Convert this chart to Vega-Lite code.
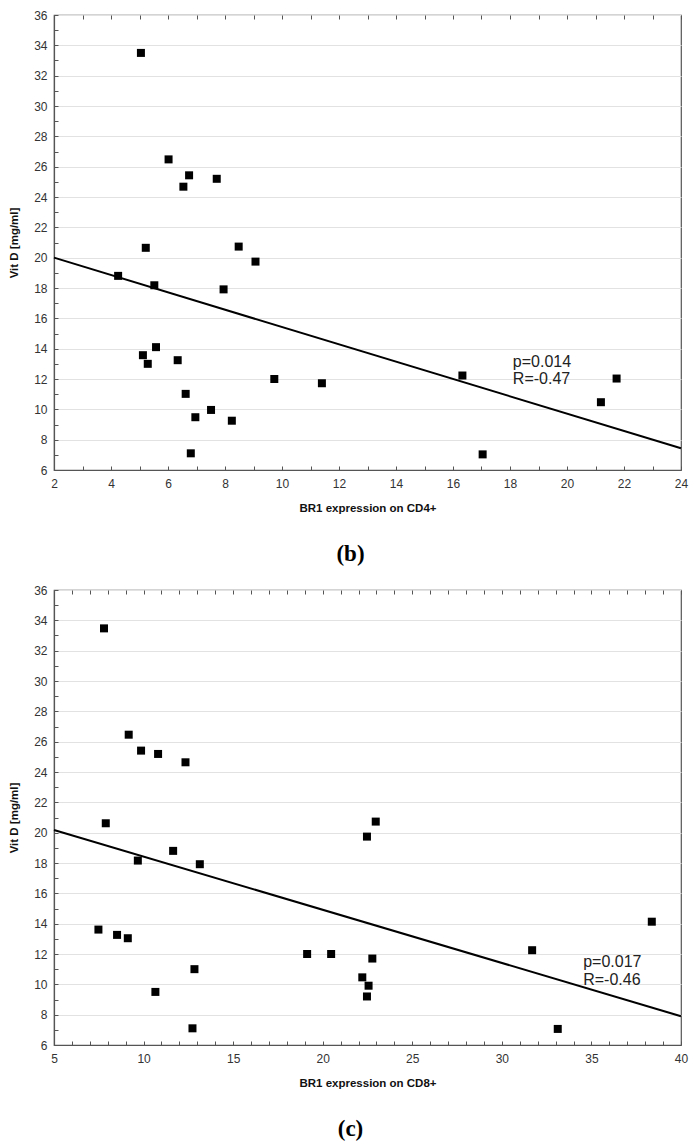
{
  "$schema": "https://vega.github.io/schema/vega-lite/v6.json",
  "background": "white",
  "padding": {"left": 8, "top": 8, "right": 12, "bottom": 0},
  "datasets": {
    "b": [
      {"x": 5.05, "y": 33.5}, {"x": 6.02, "y": 26.48}, {"x": 6.74, "y": 25.43}, {"x": 6.54, "y": 24.68}, {"x": 7.71, "y": 25.2},
      {"x": 5.22, "y": 20.65}, {"x": 8.48, "y": 20.73}, {"x": 9.07, "y": 19.74}, {"x": 4.25, "y": 18.8}, {"x": 5.52, "y": 18.18},
      {"x": 7.95, "y": 17.91}, {"x": 5.12, "y": 13.57}, {"x": 5.29, "y": 13.0}, {"x": 5.58, "y": 14.1}, {"x": 6.34, "y": 13.24},
      {"x": 9.73, "y": 12.0}, {"x": 11.4, "y": 11.72}, {"x": 6.62, "y": 11.02}, {"x": 7.51, "y": 9.96}, {"x": 6.96, "y": 9.48},
      {"x": 8.24, "y": 9.25}, {"x": 6.8, "y": 7.1}, {"x": 16.33, "y": 12.23}, {"x": 21.74, "y": 12.03}, {"x": 21.19, "y": 10.47},
      {"x": 17.04, "y": 7.03}
    ],
    "c": [
      {"x": 7.79, "y": 33.47}, {"x": 9.17, "y": 26.46}, {"x": 9.86, "y": 25.41}, {"x": 10.81, "y": 25.19}, {"x": 12.34, "y": 24.64},
      {"x": 7.89, "y": 20.62}, {"x": 9.68, "y": 18.16}, {"x": 11.65, "y": 18.8}, {"x": 13.14, "y": 17.92}, {"x": 7.48, "y": 13.61},
      {"x": 8.52, "y": 13.26}, {"x": 9.12, "y": 13.04}, {"x": 19.13, "y": 12.0}, {"x": 20.47, "y": 12.0}, {"x": 12.84, "y": 11.0},
      {"x": 10.66, "y": 9.5}, {"x": 12.73, "y": 7.1}, {"x": 22.96, "y": 20.73}, {"x": 22.47, "y": 19.74}, {"x": 22.77, "y": 11.7},
      {"x": 22.21, "y": 10.46}, {"x": 22.56, "y": 9.91}, {"x": 22.47, "y": 9.2}, {"x": 38.37, "y": 14.13}, {"x": 31.69, "y": 12.25},
      {"x": 33.12, "y": 7.06}
    ],
    "bl": [{"x": 2, "y": 20.0}, {"x": 24, "y": 7.43}],
    "cl": [{"x": 5, "y": 20.18}, {"x": 40, "y": 7.9}],
    "bt": [{"x": 18.1, "y": 13.15, "label": "p=0.014"}, {"x": 18.1, "y": 11.99, "label": "R=-0.47"}],
    "ct": [{"x": 34.54, "y": 11.5, "label": "p=0.017"}, {"x": 34.54, "y": 10.3, "label": "R=-0.46"}]
  },
  "vconcat": [
    {
      "width": 627,
      "height": 455,
      "title": {"text": "(b)", "orient": "bottom", "frame": "group", "anchor": "middle", "dx": -17, "offset": 29, "baseline": "top", "font": "Liberation Serif", "fontSize": 23, "fontWeight": "bold", "color": "#000"},
      "layer": [
        {
          "data": {"name": "b"},
          "mark": {"type": "point", "shape": "square", "filled": true, "size": 64, "color": "#000", "opacity": 1},
          "encoding": {
            "x": {"field": "x", "type": "quantitative", "scale": {"domain": [2, 24], "nice": false, "zero": false},
              "axis": {"orient": "bottom", "title": "BR1 expression on CD4+", "labelOverlap": false, "values": [2,3,4,5,6,7,8,9,10,11,12,13,14,15,16,17,18,19,20,21,22,23,24], "labelExpr": "datum.value % 2 === 0 ? datum.label : ''", "grid": false}},
            "y": {"field": "y", "type": "quantitative", "scale": {"domain": [6, 36], "nice": false, "zero": false},
              "axis": {"orient": "left", "title": "Vit D [mg/ml]", "labelOverlap": false, "values": [6,8,10,12,14,16,18,20,22,24,26,28,30,32,34,36], "grid": true}}
          }
        },
        {
          "data": {"name": "bl"},
          "mark": {"type": "line", "color": "#000", "strokeWidth": 2},
          "encoding": {
            "x": {"field": "x", "type": "quantitative", "axis": {"orient": "top", "labels": false, "title": null, "grid": false, "domain": false, "values": [2,3,4,5,6,7,8,9,10,11,12,13,14,15,16,17,18,19,20,21,22,23,24]}},
            "y": {"field": "y", "type": "quantitative", "axis": {"orient": "left", "labels": false, "title": null, "grid": false, "domain": false, "values": [7,9,11,13,15,17,19,21,23,25,27,29,31,33,35]}}
          }
        },
        {
          "data": {"name": "bt"},
          "mark": {"type": "text", "align": "left", "baseline": "middle", "font": "Liberation Sans", "fontSize": 16, "color": "#222"},
          "encoding": {
            "x": {"field": "x", "type": "quantitative", "axis": null},
            "y": {"field": "y", "type": "quantitative", "axis": null},
            "text": {"field": "label"}
          }
        }
      ],
      "resolve": {"axis": {"x": "independent", "y": "independent"}}
    },
    {
      "width": 627,
      "height": 455,
      "title": {"text": "(c)", "orient": "bottom", "frame": "group", "anchor": "middle", "dx": -17, "offset": 29, "baseline": "top", "font": "Liberation Serif", "fontSize": 23, "fontWeight": "bold", "color": "#000"},
      "layer": [
        {
          "data": {"name": "c"},
          "mark": {"type": "point", "shape": "square", "filled": true, "size": 64, "color": "#000", "opacity": 1},
          "encoding": {
            "x": {"field": "x", "type": "quantitative", "scale": {"domain": [5, 40], "nice": false, "zero": false},
              "axis": {"orient": "bottom", "title": "BR1 expression on CD8+", "labelOverlap": false, "values": [5,6,7,8,9,10,11,12,13,14,15,16,17,18,19,20,21,22,23,24,25,26,27,28,29,30,31,32,33,34,35,36,37,38,39,40], "labelExpr": "datum.value % 5 === 0 ? datum.label : ''", "grid": false}},
            "y": {"field": "y", "type": "quantitative", "scale": {"domain": [6, 36], "nice": false, "zero": false},
              "axis": {"orient": "left", "title": "Vit D [mg/ml]", "labelOverlap": false, "values": [6,8,10,12,14,16,18,20,22,24,26,28,30,32,34,36], "grid": true}}
          }
        },
        {
          "data": {"name": "cl"},
          "mark": {"type": "line", "color": "#000", "strokeWidth": 2},
          "encoding": {
            "x": {"field": "x", "type": "quantitative", "axis": {"orient": "top", "labels": false, "title": null, "grid": false, "domain": false, "values": [5,6,7,8,9,10,11,12,13,14,15,16,17,18,19,20,21,22,23,24,25,26,27,28,29,30,31,32,33,34,35,36,37,38,39,40]}},
            "y": {"field": "y", "type": "quantitative", "axis": {"orient": "left", "labels": false, "title": null, "grid": false, "domain": false, "values": [7,9,11,13,15,17,19,21,23,25,27,29,31,33,35]}}
          }
        },
        {
          "data": {"name": "ct"},
          "mark": {"type": "text", "align": "left", "baseline": "middle", "font": "Liberation Sans", "fontSize": 16, "color": "#222"},
          "encoding": {
            "x": {"field": "x", "type": "quantitative", "axis": null},
            "y": {"field": "y", "type": "quantitative", "axis": null},
            "text": {"field": "label"}
          }
        }
      ],
      "resolve": {"axis": {"x": "independent", "y": "independent"}}
    }
  ],
  "spacing": 120,
  "bounds": "flush",
  "config": {
    "view": {"stroke": "#555", "strokeWidth": 1.2},
    "axis": {
      "labelFont": "Liberation Sans", "labelFontSize": 12, "labelColor": "#333", "labelPadding": 11,
      "labelOverlap": false, "labelFlush": false,
      "titleFont": "Liberation Sans", "titleFontSize": 11.5, "titleFontWeight": "bold", "titleColor": "#111",
      "domainColor": "#555", "domainWidth": 1.2, "tickColor": "#555", "tickSize": -4,
      "gridColor": "#e2e2e2", "gridWidth": 1.2
    },
    "axisX": {"titlePadding": 13, "labelPadding": 12},
    "axisY": {"titlePadding": 14}
  }
}
